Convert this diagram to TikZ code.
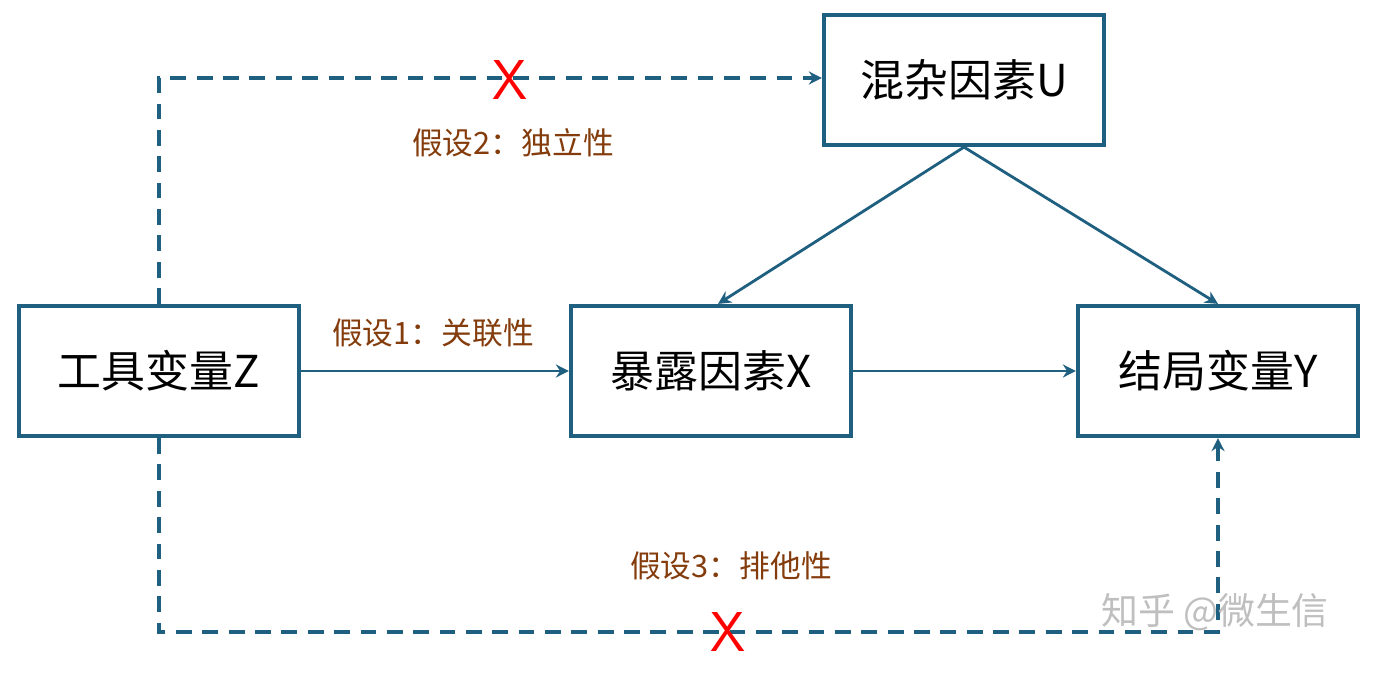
\documentclass[tikz,border=0pt]{standalone}
\usepackage{fontspec}
\setmainfont{Noto Sans CJK SC}
\newfontfamily\cjk{Noto Sans CJK SC}
\usetikzlibrary{calc,positioning}
\usetikzlibrary{arrows.meta}
\definecolor{boxblue}{HTML}{1F5F7F}
\definecolor{lblbrown}{HTML}{843C0C}
\tikzset{>={Stealth[width=2.6mm,length=2.6mm]}}

\begin{document}
\begin{tikzpicture}
      \tikzstyle{vnode} = [line width=2.4pt, draw=boxblue, rectangle, minimum width=5.6cm, minimum height=2.6cm, font=\cjk\fontsize{25}{29}\selectfont]
      \tikzstyle{anote} = [text=lblbrown, font=\cjk\fontsize{17.5}{21}\selectfont]
      \tikzstyle{link} = [line width=1.6pt, draw=boxblue, ->]
      \tikzstyle{nolink} = [link, line width=2pt, dash pattern=on 9pt off 6pt]
      \tikzstyle{cross} = [text=red, font=\sffamily\fontsize{32}{36}\selectfont]
      \useasboundingbox (0,0) rectangle (27.56,13.44);

      \node[vnode] (z) at (3.18, 6.02) {工具变量Z};
      \node[vnode] (x) at (14.22, 6.02) {暴露因素X};
      \node[vnode] (y) at (24.36, 6.02) {结局变量Y};
      \node[vnode] (u) at (19.28, 11.84) {混杂因素U};

      \node[anote] (h1) at (8.66, 6.78) {假设1：关联性};
      \node[anote] (h2) at (10.26, 10.58) {假设2：独立性};
      \node[anote] (h3) at (14.62, 2.12) {假设3：排他性};

      \coordinate (tl) at (3.18, 11.88);
      \coordinate (bl) at (3.18, 0.8);
      \coordinate (br) at (24.36, 0.8);

      \draw[link] (z) -- (x);
      \draw[link] (x) -- (y);
      \draw[link] (u.south) -- ($(x.north)+(0.14,0)$);
      \draw[link] (u.south) -- (y.north);
      \draw[nolink] (z.north) -- (tl) -- (tl -| u.west);
      \draw[nolink] (z.south) -- (bl) -- (br) -- (y.south);

      \node[cross] (x1) at (10.2, 11.84) {X};
      \node[cross] (x2) at (14.56, 0.8) {X};

      \node[text=black!25, font=\cjk\fontsize{21}{24}\selectfont] (wm) at (24.3, 1.2) {知乎 @微生信};
\end{tikzpicture}
\end{document}
